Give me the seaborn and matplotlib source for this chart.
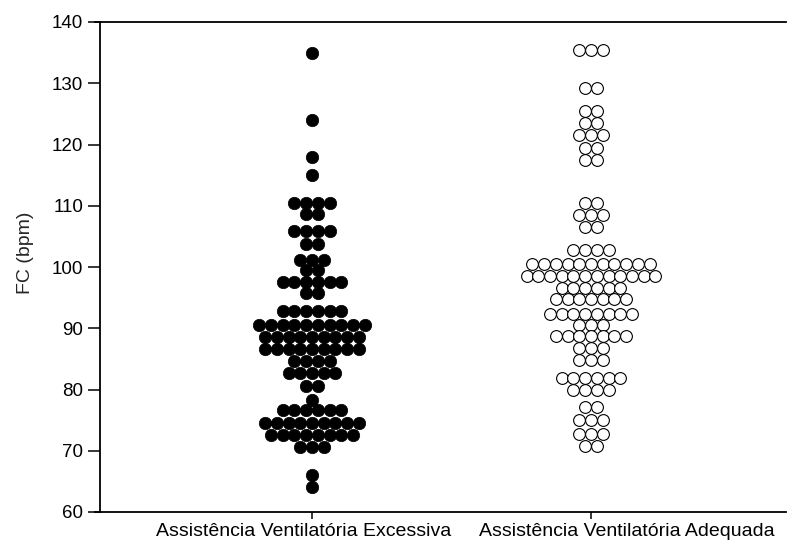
import numpy as np
import pandas as pd
import matplotlib
matplotlib.use("Agg")
import matplotlib.pyplot as plt
import matplotlib.transforms as mtransforms
import seaborn as sns

sns.set_theme(style="ticks")
plt.rcParams["font.family"] = ["Liberation Sans", "DejaVu Sans"]

# Groups shown on the x axis
categories = ["Assistência Ventilatória Excessiva", "Assistência Ventilatória Adequada"]

# Heart rate values (bpm) and how many patients share each value
excessiva_fc = [135, 124, 118, 115, 110.5, 108.6, 105.8, 103.7, 101.1, 99.5, 97.6,
                95.7, 92.8, 90.6, 88.6, 86.6, 84.7, 82.7, 80.6, 78.3, 76.6, 74.6,
                72.6, 70.6, 66.1, 64.1]
excessiva_n = [1, 1, 1, 1, 4, 2, 4, 2, 3, 2, 6, 2, 6, 10, 9, 9, 4, 5, 2, 1, 6, 9,
               8, 3, 1, 1]

adequada_fc = [135.5, 129.3, 125.5, 123.5, 121.6, 119.5, 117.5, 110.5, 108.5, 106.6,
               102.8, 100.5, 98.6, 96.6, 94.8, 92.4, 90.5, 88.7, 86.7, 84.8, 81.8,
               79.9, 77.1, 75.1, 72.8, 70.7]
adequada_n = [3, 2, 2, 2, 3, 2, 2, 2, 3, 2, 4, 11, 12, 6, 7, 8, 3, 7, 3, 3, 6, 4, 2,
              3, 3, 2]

y_ticks = [60, 70, 80, 90, 100, 110, 120, 130, 140]

STEP = 0.042  # horizontal spacing between tied points, in category units


def dot_rows(values, counts, group_idx):
    """Spread tied values into centred horizontal rows (dot-plot layout)."""
    rows = []
    for v, n in zip(values, counts):
        for i in range(n):
            rows.append((categories[group_idx], group_idx + (i - (n - 1) / 2) * STEP, v))
    return rows


df = pd.DataFrame(
    dot_rows(excessiva_fc, excessiva_n, 0) + dot_rows(adequada_fc, adequada_n, 1),
    columns=["grupo", "pos", "fc"],
)

fig = plt.figure(figsize=(7.88, 5.43), dpi=100)
W, H = 788, 543
left_px, right_px, top_px, bottom_px = 95, 786, 22, 512
ax = fig.add_axes([left_px / W, 1 - bottom_px / H,
                   (right_px - left_px) / W, (bottom_px - top_px) / H])

sns.scatterplot(data=df[df.grupo == categories[0]], x="pos", y="fc", ax=ax,
                color="black", edgecolor="black", s=80, linewidth=0.5, legend=False)
sns.scatterplot(data=df[df.grupo == categories[1]], x="pos", y="fc", ax=ax,
                facecolor="white", edgecolor="black", s=72, linewidth=0.8, legend=False)

px_per_cat = 279
ax.set_xlim(-(312 - left_px) / px_per_cat, 1 + (right_px - 591) / px_per_cat)
ax.set_ylim(60, 140)
ax.set_yticks(y_ticks)
ax.set_xticks([0, 1])
ax.set_xticklabels(categories)
ax.set_xlabel("")
ax.set_ylabel("FC (bpm)", fontsize=14)
ax.yaxis.set_label_coords(-0.088, (512 - 253) / 490)

for side in ["top", "left", "bottom"]:
    ax.spines[side].set_visible(True)
    ax.spines[side].set_color("black")
    ax.spines[side].set_linewidth(1.3)
ax.spines["right"].set_visible(False)
ax.spines["left"].set_position(("axes", 5 / (right_px - left_px)))

ax.tick_params(axis="y", direction="out", length=9, width=1.1, pad=3,
               labelsize=13.5, colors="black", right=False)
ax.tick_params(axis="x", direction="out", length=5, width=1.1, pad=3,
               labelsize=14, colors="black", top=False)

# Shift the category names sideways under their columns
for lbl, dx in zip(ax.get_xticklabels(), [-8, 36]):
    lbl.set_transform(lbl.get_transform() +
                      mtransforms.ScaledTranslation(dx / 100, 0, fig.dpi_scale_trans))

fig.savefig("out.png", dpi=100, facecolor="white")
